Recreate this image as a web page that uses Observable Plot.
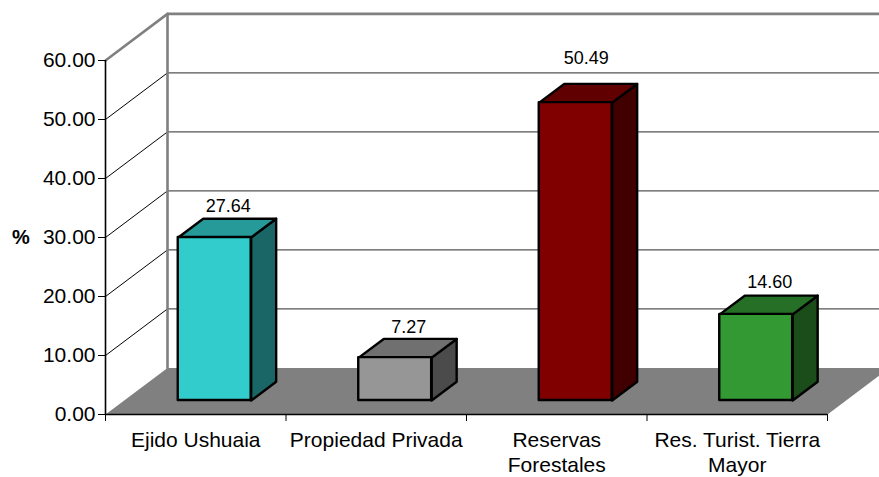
<!DOCTYPE html>
<html>
<head>
<meta charset="utf-8">
<style>html,body{margin:0;padding:0;background:#fff;overflow:hidden}svg{display:block}</style>
<script src="https://cdn.jsdelivr.net/npm/d3@7"></script>
<script src="https://cdn.jsdelivr.net/npm/@observablehq/plot@0.6"></script>
</head>
<body>
<div id="chart"></div>
<script>
const categories = ["Ejido Ushuaia", "Propiedad Privada", "Reservas\nForestales", "Res. Turist. Tierra\nMayor"];
const values = [27.64, 7.27, 50.49, 14.60];
const valueLabels = ["27.64", "7.27", "50.49", "14.60"];
const labelRaise = [2.17, 2.05, 4.3, 2.23];
const labelShift = [0.18, 0.18, 0.163, 0.18];
const yTicks = [0, 10, 20, 30, 40, 50, 60];
const xTicks = [0, 1, 2, 3, 4];
const frontFill = ["#33CCCC", "#969696", "#800000", "#339933"];
const topFill = ["#269999", "#707070", "#600000", "#266F26"];
const sideFill = ["#1A6666", "#4B4B4B", "#400000", "#1A4D1A"];

// 3D projection, in data units
const wallDx = 0.3435, wallDy = 7.9;      // floor depth
const barShift = 0.105, barWidth = 0.404, barBase = 2.37; // bar front placement
const barDx = 0.1385, barDy = 3.17;       // bar depth

const poly = (pts, opts) => Plot.line([...pts, pts[0]], {x: d => d[0], y: d => d[1], ...opts});

const gridMarks = yTicks.slice(1, -1).flatMap(v => [
  Plot.line([[0, v], [wallDx, v + wallDy]], {x: d => d[0], y: d => d[1], stroke: "#000", strokeWidth: 1}),
  Plot.line([[wallDx, v + wallDy], [4 + wallDx, v + wallDy]], {x: d => d[0], y: d => d[1], stroke: "#555", strokeWidth: 1.3})
]);

const barMarks = values.flatMap((v, i) => {
  const x0 = i + 0.5 + barShift - barWidth / 2, x1 = x0 + barWidth;
  const yb = barBase, yt = barBase + v;
  const style = {stroke: "#000", strokeWidth: 2.4, strokeLinejoin: "round"};
  return [
    poly([[x1, yb], [x1 + barDx, yb + barDy], [x1 + barDx, yt + barDy], [x1, yt]], {fill: sideFill[i], ...style}),
    poly([[x0, yt], [x0 + barDx, yt + barDy], [x1 + barDx, yt + barDy], [x1, yt]], {fill: topFill[i], ...style}),
    Plot.rect([v], {x1: () => x0, x2: () => x1, y1: () => yb, y2: d => barBase + d, fill: frontFill[i], ...style})
  ];
});

const plot = Plot.plot({
  width: 879,
  height: 477,
  marginTop: 60,
  marginBottom: 63,
  marginLeft: 105,
  marginRight: 52,
  x: {domain: [0, 4]},
  y: {domain: [0, 60]},
  style: {fontFamily: "'Liberation Sans', Arial, sans-serif", fontSize: "18px", background: "#fff", color: "#000"},
  marks: [
    poly([[0, 0], [wallDx, wallDy], [4 + wallDx, wallDy], [4, 0]], {fill: "#808080", stroke: "none"}),
    ...gridMarks,
    Plot.line([[0, 60], [wallDx, 60 + wallDy], [4 + wallDx, 60 + wallDy]], {x: d => d[0], y: d => d[1], stroke: "#808080", strokeWidth: 2.6}),
    Plot.line([[wallDx, wallDy], [wallDx, 60 + wallDy]], {x: d => d[0], y: d => d[1], stroke: "#808080", strokeWidth: 2.6}),
    ...barMarks,
    Plot.ruleX([0], {y1: 0, y2: 60, stroke: "#000", strokeWidth: 1.6}),
    Plot.ruleY([0], {x1: 0, x2: 4, stroke: "#000", strokeWidth: 1.6}),
    Plot.axisY({ticks: yTicks, tickFormat: d => d.toFixed(2), tickSize: 7, tickPadding: 3, label: null, fontSize: 21, stroke: "#000"}),
    Plot.axisX({ticks: xTicks, tickFormat: () => "", tickSize: 7, label: null, stroke: "#000"}),
    Plot.text(categories, {x: (d, i) => i + 0.5, y: () => 0, text: d => d, dy: 15, lineAnchor: "top", lineHeight: 1.19, fontSize: 21, fill: "#000"}),
    Plot.text(valueLabels, {x: (d, i) => i + 0.5 + labelShift[i], y: (d, i) => values[i] + barBase + barDy + labelRaise[i], text: d => d, fontSize: 18, fill: "#000"}),
    Plot.text(["%"], {x: () => 0, y: () => 30, text: d => d, dx: -84.5, fontSize: 20, fontWeight: "bold", fill: "#000"})
  ]
});
document.getElementById("chart").appendChild(plot);
</script>
</body>
</html>
